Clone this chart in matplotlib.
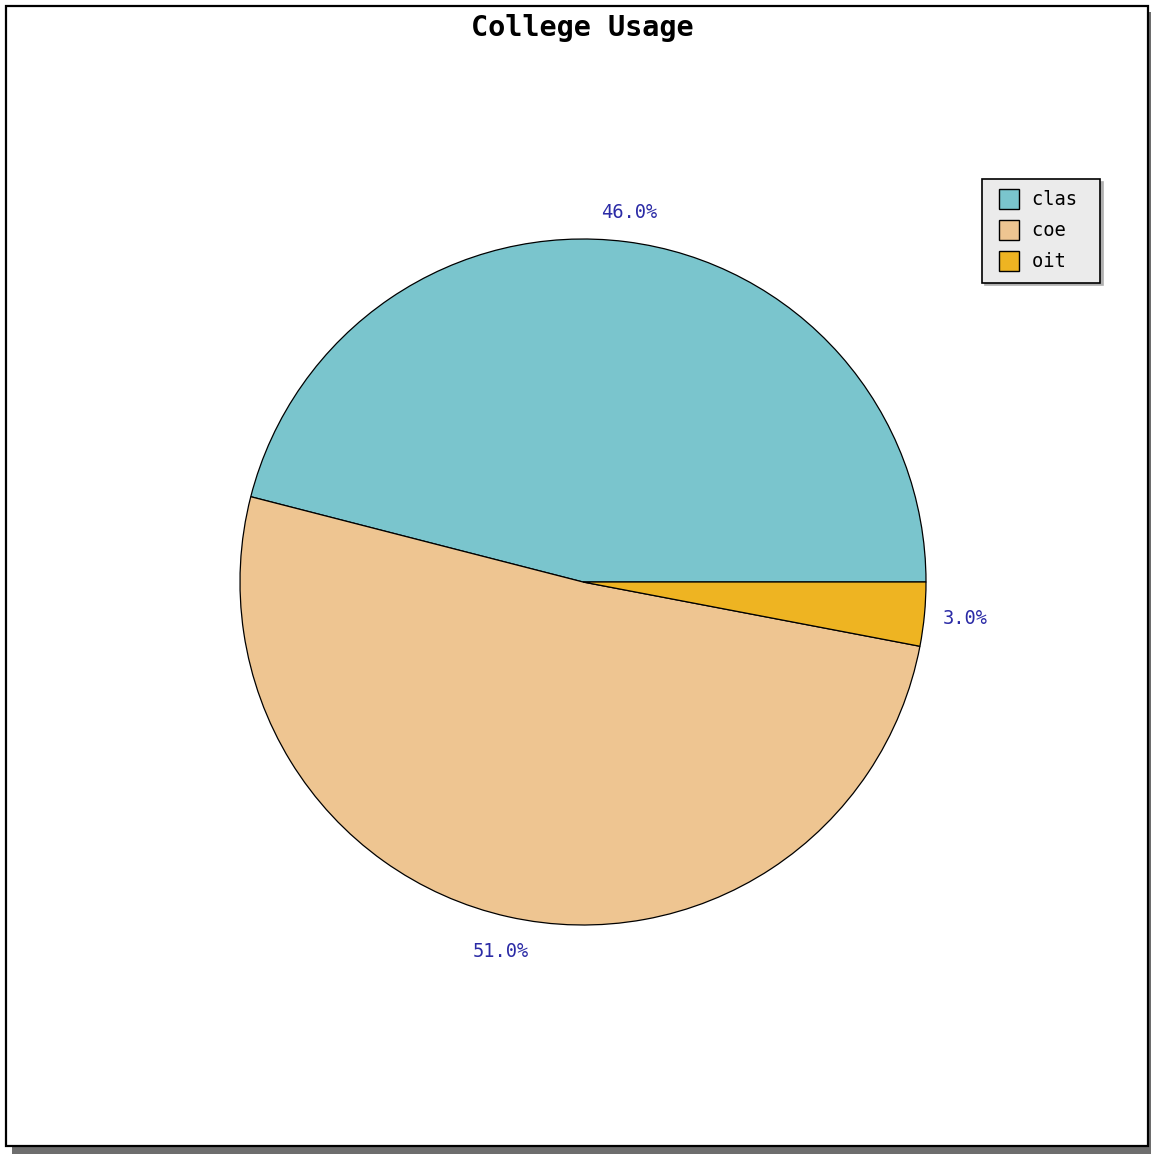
import numpy as np
import matplotlib
matplotlib.use("Agg")
import matplotlib.pyplot as plt
from matplotlib.patches import Rectangle
from matplotlib.legend_handler import HandlerPatch

# ---- data ----
title = "College Usage"
categories = ["clas", "coe", "oit"]
values = [46.0, 51.0, 3.0]
colors = ["#7AC5CD", "#EEC591", "#EEB422"]

W, H = 1151, 1154
fig = plt.figure(figsize=(W / 100, H / 100), dpi=100)
ax = fig.add_axes([0, 0, 1, 1])

mono = "DejaVu Sans Mono"
cx, cy, R = 583, H - 582, 343

wedges, texts, autotexts = ax.pie(
    values, colors=colors, startangle=0, counterclock=True,
    radius=R, center=(cx, cy),
    autopct="%.1f%%", pctdistance=1.1,
    wedgeprops=dict(edgecolor="black", linewidth=0.9),
    textprops=dict(color="#2b2ba6", family=mono, fontsize=13.5),
)

# fine-tune radial placement of percentage labels
label_dist = [1.085, 1.105, 1.12]
for w, t, d in zip(wedges, autotexts, label_dist):
    ang = np.deg2rad((w.theta1 + w.theta2) / 2)
    t.set_position((cx + d * R * np.cos(ang), cy + d * R * np.sin(ang)))

ax.set_xlim(0, W)
ax.set_ylim(0, H)
ax.set_aspect("auto")
ax.axis("off")

# figure frame with shadow
ax.add_patch(Rectangle((12, 0), W - 12, H - 12, facecolor="#6e6e6e",
                       edgecolor="none", zorder=-3))
ax.add_patch(Rectangle((6, H - 1146), 1142, 1140, facecolor="white",
                       edgecolor="black", linewidth=1.6, zorder=-2))

ax.text(582, H - 28, title, ha="center", va="center", family=mono,
        fontweight="bold", fontsize=20.5, color="black")

fs = 13.5
sq = 1.07 * fs

def square_patch(legend, orig_handle, xdescent, ydescent, width, height, fontsize):
    return Rectangle((-xdescent + width - sq, -ydescent + (height - sq) / 2), sq, sq)

leg = ax.legend(
    wedges, [c + " " for c in categories],
    loc="upper right", bbox_to_anchor=(1100, H - 179), bbox_transform=ax.transData,
    borderaxespad=0, prop=dict(family=mono, size=fs),
    frameon=True, fancybox=False, edgecolor="black", facecolor="#ebebeb",
    framealpha=1, shadow={"color": "#b0b0b0", "alpha": 1},
    borderpad=0.6, labelspacing=0.64, handlelength=1.4, handleheight=1.0,
    handletextpad=0.7,
    handler_map={w: HandlerPatch(patch_func=square_patch) for w in wedges},
)
leg.get_frame().set_linewidth(1.2)
for h in leg.legend_handles:
    h.set_edgecolor("black")
    h.set_linewidth(1.0)

fig.savefig("out.png", dpi=100)
